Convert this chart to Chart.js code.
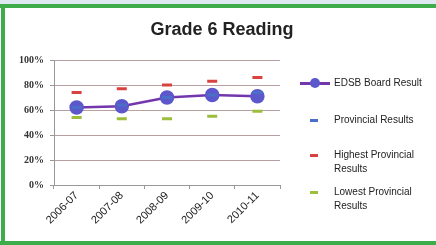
<!DOCTYPE html>
<html>
<head>
<meta charset="utf-8">
<script src="https://cdn.jsdelivr.net/npm/chart.js@4"></script>
<style>
  body { margin: 0; width: 436px; height: 245px; overflow: hidden; background: #fff; font-family: "Liberation Sans", sans-serif; }
  #wrap { position: relative; width: 436px; height: 245px; }
  .band { position: absolute; background: #3cad4a; }
  #topStrip { position: absolute; left: 0; top: 0; width: 436px; height: 4px; background: #dfe9f1; }
  #title { position: absolute; left: 0; width: 444px; top: 19px; text-align: center; font: bold 18px "Liberation Sans", sans-serif; color: #222; }
  canvas { position: absolute; left: 0; top: 0; }
  .lg { position: absolute; font-size: 10px; color: #222; line-height: 14px; }
  .mk { position: absolute; }
</style>
</head>
<body>
<div id="wrap">
  <div id="topStrip"></div>
  <div class="band" style="left:0;top:4px;width:436px;height:4px"></div>
  <div class="band" style="left:1px;top:4px;width:4px;height:241px"></div>
  <div class="band" style="left:0;top:241px;width:436px;height:4px"></div>
  <canvas id="gradeChart" width="436" height="245"></canvas>
  <div id="title">Grade 6 Reading</div>
  <div id="legend"></div>
</div>
<script>
const years = ["2006-07", "2007-08", "2008-09", "2009-10", "2010-11"];
const boardResult = [62, 63, 70, 72, 71];
const provincialResults = [62, 64, 70, 72, 74];
const highestProvincial = [74, 77, 80, 83, 86];
const lowestProvincial = [54, 53, 53, 55, 59];
const yTicks = [0, 20, 40, 60, 80, 100];

const seriesNames = ["EDSB Board Result", "Provincial Results", ["Highest Provincial", "Results"], ["Lowest Provincial", "Results"]];

function dashSet(label, data, color) {
    return {
        label: label,
        data: data,
        showLine: false,
        pointStyle: 'line',
        pointRadius: 5,
        pointBorderWidth: 3,
        borderColor: color,
        backgroundColor: color
    };
}

const datasets = [
    dashSet(seriesNames[1], provincialResults, "#4a6fc9"),
    dashSet(seriesNames[2], highestProvincial, "#d8423f"),
    dashSet(seriesNames[3], lowestProvincial, "#9dbd3c"),
    {
        label: seriesNames[0],
        data: boardResult,
        borderColor: "#7336ad",
        borderWidth: 2.5,
        pointRadius: 6,
        pointBackgroundColor: "#5c58cc",
        pointBorderColor: "#5c58cc",
        tension: 0
    }
];

const ctx = document.getElementById('gradeChart').getContext('2d');
const chart = new Chart(ctx, {
    type: 'line',
    data: { labels: years, datasets: datasets },
    options: {
        responsive: false,
        animation: false,
        layout: { padding: { left: 6, right: 156, top: 60, bottom: 8 } },
        plugins: { legend: { display: false }, tooltip: { enabled: false } },
        scales: {
            x: {
                offset: true,
                grid: { display: true, drawOnChartArea: false, offset: true, color: "#999", tickLength: 4 },
                border: { color: "#999" },
                ticks: {
                    minRotation: 45, maxRotation: 45, color: "#222",
                    font: { family: "Liberation Sans", size: 11 }, padding: 0
                },
                afterFit: function (scale) {
                    scale.height = 52;
                    scale.paddingLeft = 0;
                    scale.paddingRight = 0;
                }
            },
            y: {
                min: 0, max: 100,
                afterBuildTicks: function (scale) {
                    scale.ticks = yTicks.map(v => ({ value: v }));
                },
                grid: { color: "#b8a0a0", tickLength: 4, tickColor: "#999" },
                border: { color: "#999" },
                ticks: {
                    color: "#333", padding: 6,
                    font: { family: "Liberation Serif", size: 10, weight: 'bold' },
                    callback: v => v + "%"
                },
                afterFit: function (scale) {
                    scale.width = 48;
                    scale.paddingTop = 0;
                    scale.paddingBottom = 0;
                }
            }
        }
    }
});

// legend built from the chart's datasets
const legend = document.getElementById('legend');
const rows = [
    { ds: 3, y: 83 },
    { ds: 0, y: 120 },
    { ds: 1, y: 155 },
    { ds: 2, y: 192 }
];
rows.forEach(row => {
    const d = chart.data.datasets[row.ds];
    const lines = Array.isArray(d.label) ? d.label : [d.label];
    if (row.ds === 3) {
        const ln = document.createElement('div');
        ln.className = 'mk';
        ln.style.cssText = `left:300px;top:${row.y - 1}px;width:30px;height:2.5px;background:${d.borderColor}`;
        legend.appendChild(ln);
        const dot = document.createElement('div');
        dot.className = 'mk';
        dot.style.cssText = `left:310px;top:${row.y - 5}px;width:10px;height:10px;border-radius:50%;background:${d.pointBackgroundColor}`;
        legend.appendChild(dot);
    } else {
        const dash = document.createElement('div');
        dash.className = 'mk';
        dash.style.cssText = `left:310px;top:${row.y - 1}px;width:8px;height:2.5px;background:${d.borderColor}`;
        legend.appendChild(dash);
    }
    const txt = document.createElement('div');
    txt.className = 'lg';
    txt.style.left = '334px';
    txt.style.top = (row.y - 7) + 'px';
    txt.innerHTML = lines.join('<br>');
    legend.appendChild(txt);
});
</script>
</body>
</html>
